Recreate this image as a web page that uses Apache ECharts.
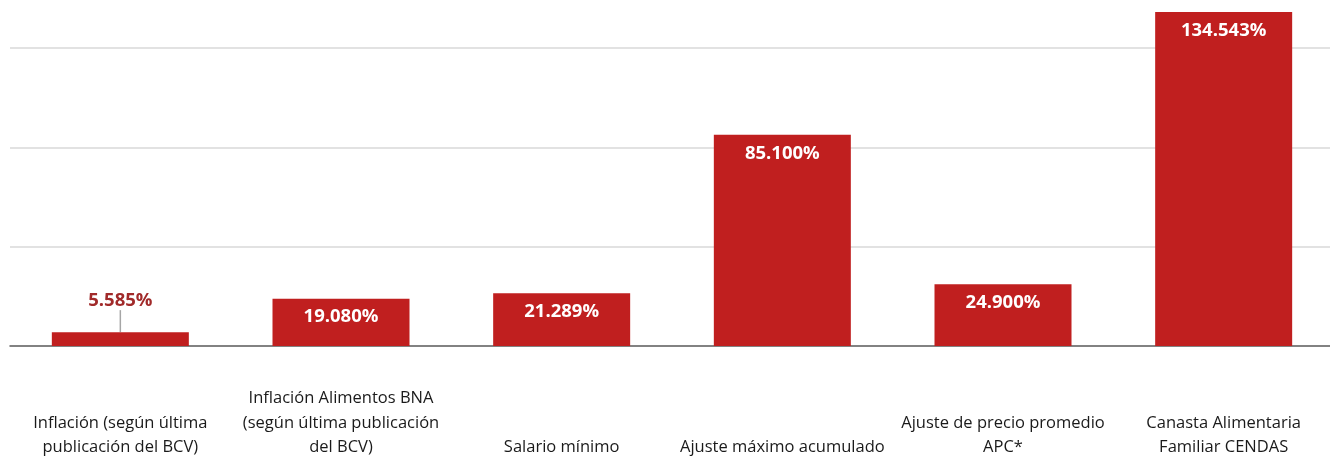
<!DOCTYPE html>
<html>
<head>
<meta charset="utf-8">
<script src="https://cdn.jsdelivr.net/npm/echarts@6/dist/echarts.min.js"></script>
<style>
  html, body { margin: 0; padding: 0; background: #fff; }
  #chart { width: 1330px; height: 456px; }
</style>
</head>
<body>
<div id="chart"></div>
<script>
const categories = [
  'Inflación (según última\npublicación del BCV)',
  'Inflación Alimentos BNA\n(según última publicación\ndel BCV)',
  'Salario mínimo',
  'Ajuste máximo acumulado',
  'Ajuste de precio promedio\nAPC*',
  'Canasta Alimentaria\nFamiliar CENDAS'
]
const values = [5585, 19080, 21289, 85100, 24900, 134543]
const valueLabels = ['5.585%', '19.080%', '21.289%', '85.100%', '24.900%', '134.543%']
const gridValues = [40000, 80000, 120000]

const chart = echarts.init(document.getElementById('chart'))

const option = {
  animation: false,
  grid: {
    left: 10,
    right: -4,
    top: 0,
    bottom: 110,
    outerBoundsMode: 'none'
  },
  xAxis: {
    type: 'category',
    data: categories,
    axisLine: { lineStyle: { color: '#595959', width: 1.5 } },
    axisTick: { show: false },
    axisLabel: {
      interval: 0,
      margin: 114,
      verticalAlign: 'bottom',
      lineHeight: 24.5,
      fontFamily: 'Open Sans',
      fontSize: 16.5,
      color: '#1a1a1a'
    }
  },
  yAxis: {
    type: 'value',
    min: 0,
    max: 139400,
    axisLabel: { show: false },
    axisLine: { show: false },
    axisTick: { show: false },
    splitLine: { show: false }
  },
  series: [
    {
      type: 'line',
      data: [],
      z: 1,
      markLine: {
        silent: true,
        z: 1,
        symbol: 'none',
        label: { show: false },
        lineStyle: { color: '#d9d9d9', width: 1.5, type: 'solid' },
        data: gridValues.map(v => ({ yAxis: v }))
      }
    },
    {
      type: 'bar',
      z: 3,
      barWidth: 137,
      itemStyle: { color: '#c01f1f' },
      data: values.map((v, i) => ({
        value: v,
        label: i === 0
          ? { position: 'top', color: '#a12a2a' }
          : { position: 'insideTop', color: '#ffffff' }
      })),
      label: {
        show: true,
        distance: 9,
        fontFamily: 'Open Sans',
        fontWeight: 'bold',
        fontSize: 18.5,
        formatter: (p) => valueLabels[p.dataIndex]
      },
      labelLayout: (params) => params.dataIndex === 0 ? { dy: -13 } : {},
      labelLine: {
        show: true,
        lineStyle: { color: '#a6a6a6', width: 1.5 }
      }
    }
  ]
}

chart.setOption(option)
</script>
</body>
</html>
